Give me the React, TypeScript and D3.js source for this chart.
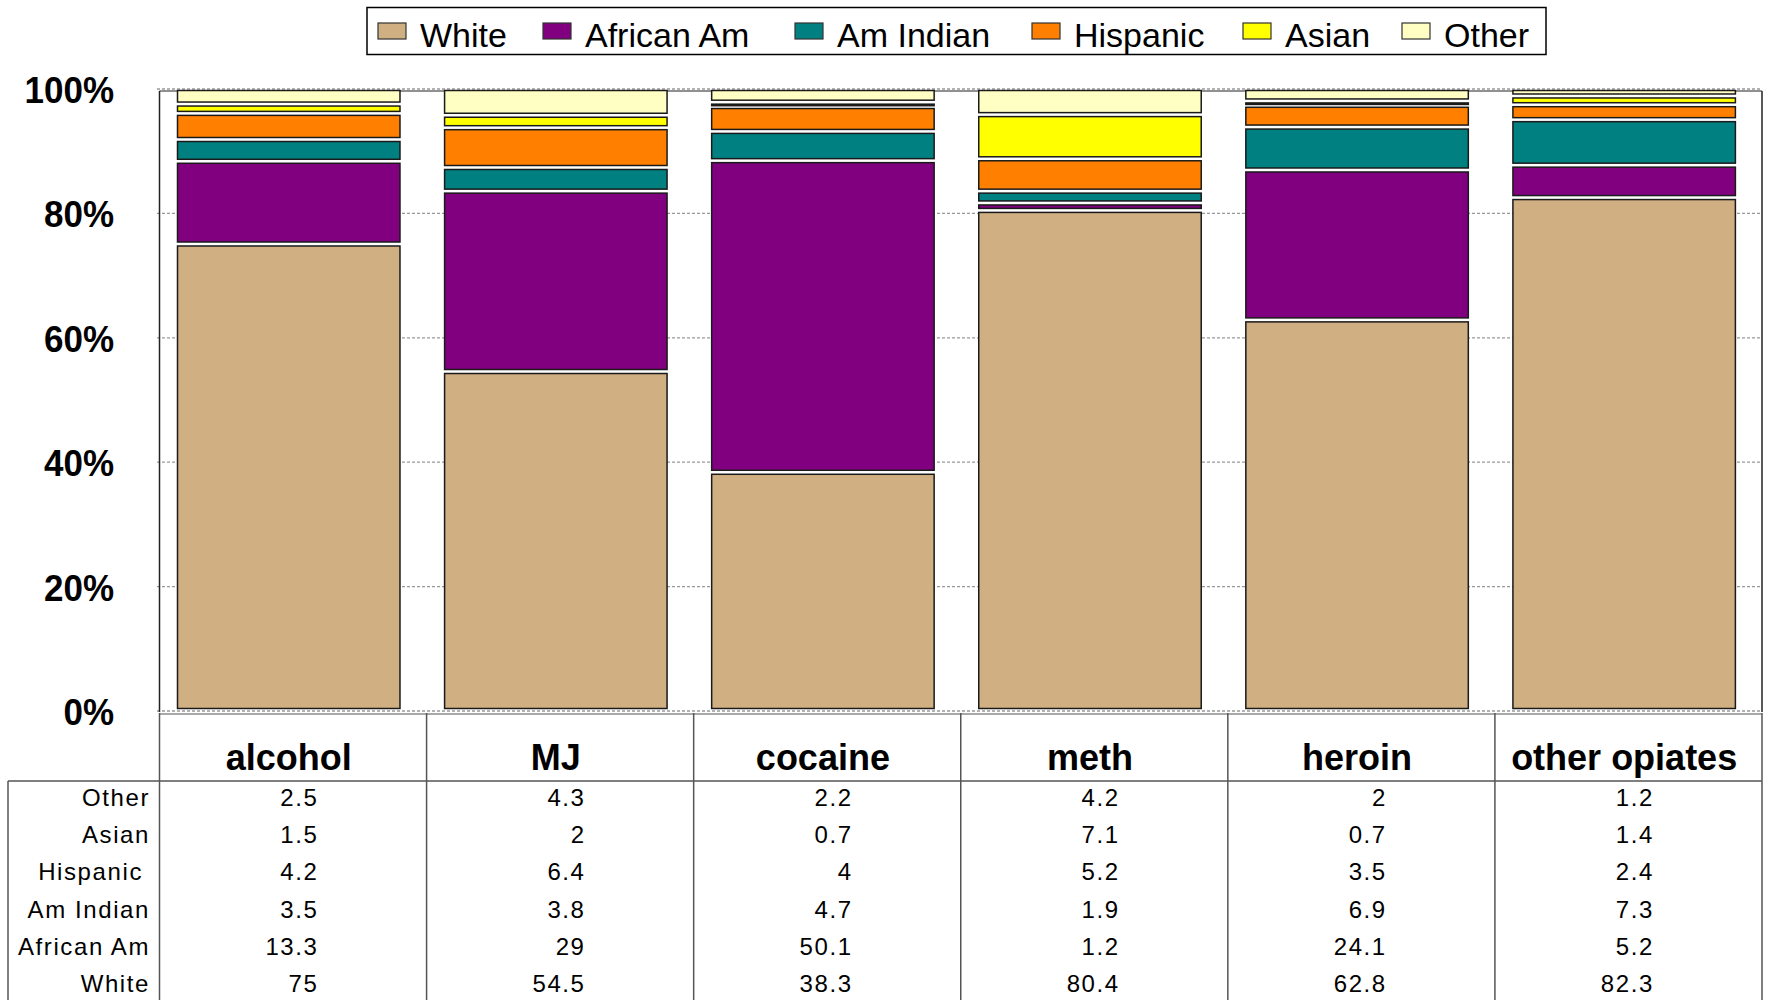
import React from "react";
import * as d3 from "d3";

const categories = ["alcohol", "MJ", "cocaine", "meth", "heroin", "other opiates"];
const seriesNames = ["White", "African Am", "Am Indian", "Hispanic", "Asian", "Other"];
const white = [75, 54.5, 38.3, 80.4, 62.8, 82.3];
const africanAm = [13.3, 29, 50.1, 1.2, 24.1, 5.2];
const amIndian = [3.5, 3.8, 4.7, 1.9, 6.9, 7.3];
const hispanic = [4.2, 6.4, 4, 5.2, 3.5, 2.4];
const asian = [1.5, 2, 0.7, 7.1, 0.7, 1.4];
const other = [2.5, 4.3, 2.2, 4.2, 2, 1.2];
const yTicks = [0, 20, 40, 60, 80, 100];
const tableRowOrder = ["Other", "Asian", "Hispanic", "Am Indian", "African Am", "White"];

const seriesValues: Record<string, number[]> = {
  White: white,
  "African Am": africanAm,
  "Am Indian": amIndian,
  Hispanic: hispanic,
  Asian: asian,
  Other: other,
};

const colors: Record<string, string> = {
  White: "#D0AF82",
  "African Am": "#800080",
  "Am Indian": "#008080",
  Hispanic: "#FF8000",
  Asian: "#FFFF00",
  Other: "#FFFFC4",
};

const FONT = "'Liberation Sans', Arial, Helvetica, sans-serif";

export default function App() {
  const W = 1767;
  const H = 1000;
  const plotLeft = 159.5;
  const plotRight = 1762;
  const plotTop = 90;
  const plotBottom = 712;

  const rows = categories.map((c, i) => {
    const o: any = { cat: c };
    seriesNames.forEach((s) => (o[s] = seriesValues[s][i]));
    return o;
  });
  const stacked = d3.stack<any>().keys(seriesNames).offset(d3.stackOffsetExpand)(rows);

  const y = d3.scaleLinear().domain([0, 1]).range([plotBottom, plotTop]);
  const x = d3.scaleBand<string>().domain(categories).range([plotLeft, plotRight]).paddingInner(0).paddingOuter(0);
  const bw = x.bandwidth();
  const barOff = 18;
  const barW = bw * 0.833;

  const legendX = [378, 543, 795, 1032, 1243, 1402];
  const tableTop = 713;
  const headerBottom = 781;
  const lineColor = "#555";

  return (
    <svg
      width={W}
      height={H}
      style={{ position: "absolute", left: 0, top: 0, display: "block", background: "#fff" }}
      fontFamily={FONT}
    >
      {/* Legend */}
      <rect x={367} y={7.5} width={1179} height={47} fill="#fff" stroke="#000" strokeWidth={1.5} />
      {seriesNames.map((s, i) => (
        <g key={s}>
          <rect x={legendX[i]} y={23} width={28} height={16} fill={colors[s]} stroke="#333" strokeWidth={1.2} />
          <text x={legendX[i] + 42} y={47} fontSize={34} fill="#000">
            {s}
          </text>
        </g>
      ))}

      {/* Gridlines */}
      {yTicks.map((t) => (
        <line
          key={t}
          x1={157}
          x2={plotRight}
          y1={y(t / 100) - 1}
          y2={y(t / 100) - 1}
          stroke="#999"
          strokeWidth={1.3}
          strokeDasharray="3,2"
        />
      ))}

      {/* Plot frame */}
      <line x1={plotLeft} x2={plotLeft} y1={plotTop + 1} y2={plotBottom} stroke="#222" strokeWidth={1.5} />
      <line x1={plotRight} x2={plotRight} y1={plotTop + 1} y2={plotBottom} stroke="#222" strokeWidth={1.5} />
      <line x1={plotLeft} x2={plotRight} y1={plotTop + 1} y2={plotTop + 1} stroke="#222" strokeWidth={1.2} />

      {/* Bars */}
      {stacked.map((layer) =>
        layer.map((d, j) => {
          const top = y(d[1]) + 0.5;
          const h = Math.max(1.5, y(d[0]) - y(d[1]) - 4);
          return (
            <rect
              key={layer.key + j}
              x={(x(categories[j]) as number) + barOff}
              y={top}
              width={barW}
              height={h}
              fill={colors[layer.key]}
              stroke="#1a1a1a"
              strokeWidth={1.5}
            />
          );
        })
      )}

      {/* Y tick labels */}
      {yTicks.map((t) => (
        <text
          key={t}
          transform={`translate(114, ${y(t / 100) + 13}) scale(1, 1.08)`}
          textAnchor="end"
          fontSize={35}
          fontWeight="bold"
          fill="#000"
        >
          {t + "%"}
        </text>
      ))}

      {/* Table */}
      <line x1={plotLeft} x2={plotRight} y1={tableTop + 1} y2={tableTop + 1} stroke={lineColor} strokeWidth={1.2} />
      <line x1={8} x2={plotRight} y1={headerBottom} y2={headerBottom} stroke={lineColor} strokeWidth={1.5} />
      <line x1={8} x2={8} y1={headerBottom} y2={H} stroke={lineColor} strokeWidth={1.5} />
      {categories.map((c) => (
        <line
          key={"v" + c}
          x1={x(c) as number}
          x2={x(c) as number}
          y1={tableTop}
          y2={H}
          stroke={lineColor}
          strokeWidth={1.5}
        />
      ))}
      <line x1={plotRight} x2={plotRight} y1={tableTop} y2={H} stroke={lineColor} strokeWidth={1.5} />

      {categories.map((c) => (
        <text
          key={"h" + c}
          x={(x(c) as number) + barOff + barW / 2}
          y={770}
          textAnchor="middle"
          fontSize={36}
          fontWeight="bold"
          fill="#000"
        >
          {c}
        </text>
      ))}

      {tableRowOrder.map((s, r) => {
        const by = 806 + r * 37.2;
        return (
          <g key={"r" + s}>
            <text
              x={s === "Hispanic" ? 143 : 150}
              y={by}
              textAnchor="end"
              fontSize={24}
              letterSpacing={1.6}
              fill="#000"
            >
              {s}
            </text>
            {categories.map((c, j) => (
              <text
                key={c}
                x={(x(c) as number) + 159}
                y={by}
                textAnchor="end"
                fontSize={24}
                letterSpacing={1.6}
                fill="#000"
              >
                {String(seriesValues[s][j])}
              </text>
            ))}
          </g>
        );
      })}
    </svg>
  );
}
